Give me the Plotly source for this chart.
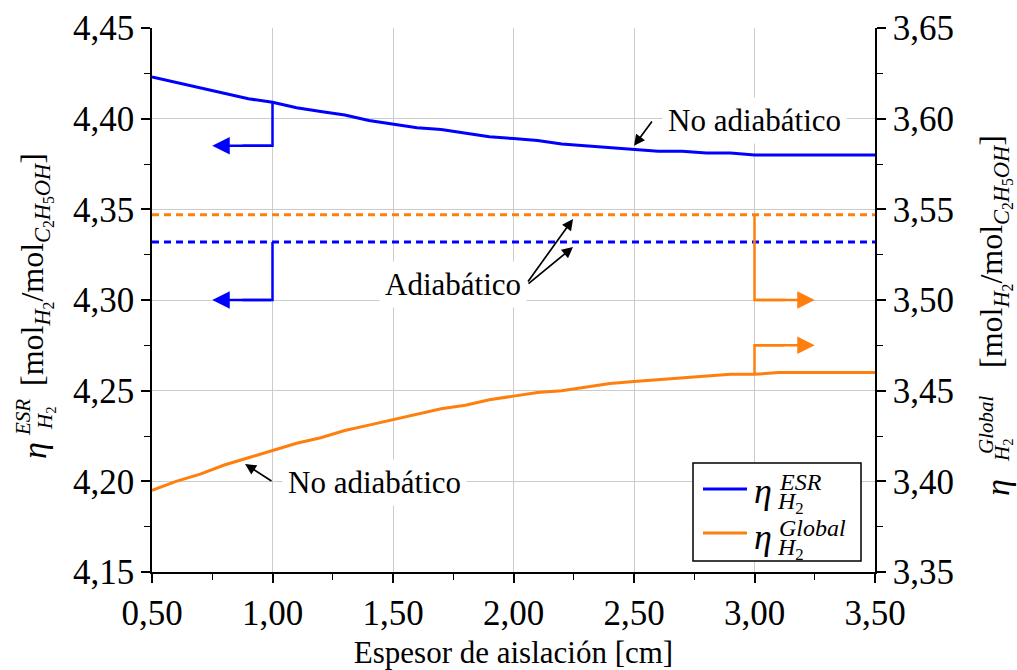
import plotly.graph_objects as go

# Espesor de aislación [cm]
espesor = [0.5, 0.6, 0.7, 0.8, 0.9, 1.0, 1.1, 1.2, 1.3, 1.4, 1.5, 1.6, 1.7, 1.8, 1.9, 2.0,
           2.1, 2.2, 2.3, 2.4, 2.5, 2.6, 2.7, 2.8, 2.9, 3.0, 3.1, 3.2, 3.3, 3.4, 3.5]

# Rendimiento ESR, caso no adiabático (eje izquierdo)
eta_esr_no_adiab = [4.423, 4.420, 4.417, 4.414, 4.411, 4.409, 4.406, 4.404, 4.402, 4.399,
                    4.397, 4.395, 4.394, 4.392, 4.390, 4.389, 4.388, 4.386, 4.385, 4.384,
                    4.383, 4.382, 4.382, 4.381, 4.381, 4.380, 4.380, 4.380, 4.380, 4.380, 4.380]

# Rendimiento global, caso no adiabático (eje derecho)
eta_global_no_adiab = [3.395, 3.400, 3.404, 3.409, 3.413, 3.417, 3.421, 3.424, 3.428, 3.431,
                       3.434, 3.437, 3.440, 3.442, 3.445, 3.447, 3.449, 3.450, 3.452, 3.454,
                       3.455, 3.456, 3.457, 3.458, 3.459, 3.459, 3.460, 3.460, 3.460, 3.460, 3.460]

# Casos adiabáticos (constantes)
eta_esr_adiab = 4.332
eta_global_adiab = 3.547

BLUE = "#0000ff"
ORANGE = "#ff7f0e"
FONT = "Liberation Serif, Times New Roman, serif"

W, H = 1017, 670
ML, MR, MT, MB = 152, 142, 28, 98
PW, PH = W - ML - MR, H - MT - MB


def px(xp):
    return (xp - ML) / PW


def py(yp):
    return (H - MB - yp) / PH


fig = go.Figure()

x_ends = [espesor[0], espesor[-1]]
fig.add_trace(go.Scatter(x=x_ends, y=[eta_global_adiab] * 2, yaxis="y2", mode="lines",
                         line=dict(color=ORANGE, width=3, dash="7px,5px"), showlegend=False))
fig.add_trace(go.Scatter(x=x_ends, y=[eta_esr_adiab] * 2, mode="lines",
                         line=dict(color=BLUE, width=3, dash="7px,5px"), showlegend=False))
fig.add_trace(go.Scatter(x=espesor, y=eta_esr_no_adiab, mode="lines",
                         line=dict(color=BLUE, width=3), name="ESR", showlegend=False))
fig.add_trace(go.Scatter(x=espesor, y=eta_global_no_adiab, yaxis="y2", mode="lines",
                         line=dict(color=ORANGE, width=3), name="Global", showlegend=False))

# Indicadores de eje: trazo vertical desde la curva y tramo horizontal con flecha
i1 = espesor.index(1.0)
i3 = espesor.index(3.0)
indicadores = [
    # (x de partida, y de partida, y del codo, x final, eje, color)
    (1.0, eta_esr_no_adiab[i1], 4.385, 0.75, "y", BLUE),
    (1.0, eta_esr_adiab, 4.300, 0.75, "y", BLUE),
    (3.0, eta_global_adiab, 3.500, 3.25, "y2", ORANGE),
    (3.0, eta_global_no_adiab[i3], 3.475, 3.25, "y2", ORANGE),
]
annotations = []
for x0, y0, yc, xf, ax_name, col in indicadores:
    fig.add_trace(go.Scatter(x=[x0, x0, (x0 + xf) / 2], y=[y0, yc, yc], yaxis=ax_name,
                             mode="lines", line=dict(color=col, width=2.5), showlegend=False))
    annotations.append(dict(x=xf, y=yc, ax=x0, ay=yc, xref="x", yref=ax_name,
                            axref="x", ayref=ax_name, text="", showarrow=True,
                            arrowhead=2, arrowsize=1.4, arrowwidth=2.5, arrowcolor=col))

# Etiquetas con flechas negras
textos = [
    ("No adiabático", 3.0, 4.399),
    ("Adiabático", 1.747, 4.3088),
    ("No adiabático", 1.425, 4.1996),
]
for t, xt, yt in textos:
    annotations.append(dict(x=xt, y=yt, xref="x", yref="y", text=t, showarrow=False,
                            font=dict(family=FONT, size=31, color="black"),
                            bgcolor="white", borderpad=5))

flechas = [
    # (cola x, cola y, punta x, punta y)
    (2.579, 4.3993, 2.5, 4.3850),
    (1.002, 4.1996, 0.886, 4.2096),
    (2.056, 4.3094, 2.247, 4.3447),
    (2.056, 4.3083, 2.247, 4.3292),
]
for xa, ya, xh, yh in flechas:
    annotations.append(dict(x=xh, y=yh, ax=xa, ay=ya, xref="x", yref="y", axref="x",
                            ayref="y", text="", showarrow=True, arrowhead=2,
                            arrowsize=1.3, arrowwidth=1.7, arrowcolor="black"))


def rot_text(text, xp, yp, size, angle=-90):
    return dict(x=px(xp), y=py(yp), xref="paper", yref="paper", text=text,
                showarrow=False, textangle=angle, xanchor="center", yanchor="middle",
                font=dict(family=FONT, size=size, color="black"))


unidades = ("[mol<sub><i>H</i><sub>2</sub></sub>/mol<sub><i>C</i><sub>2</sub>"
            "<i>H</i><sub>5</sub><i>OH</i></sub>]")

# Título eje izquierdo
annotations += [
    rot_text("<i>η</i>", 34, 451, 34),
    rot_text("<i>ESR</i>", 23, 418, 21),
    rot_text("<i>H</i><sub>2</sub>", 46, 418, 21),
    rot_text(unidades, 35, 270, 32),
]
# Título eje derecho
annotations += [
    rot_text("<i>η</i>", 997, 488, 34),
    rot_text("<i>Global</i>", 986, 424, 21),
    rot_text("<i>H</i><sub>2</sub>", 1003, 450, 21),
    rot_text(unidades, 994, 252, 32),
]

# Leyenda
shapes = [
    dict(type="rect", xref="paper", yref="paper", x0=px(693), x1=px(861), y0=py(561),
         y1=py(463), line=dict(color="black", width=1.5), fillcolor="white", layer="above"),
    dict(type="line", xref="paper", yref="paper", x0=px(703), x1=px(747), y0=py(489),
         y1=py(489), line=dict(color=BLUE, width=3), layer="above"),
    dict(type="line", xref="paper", yref="paper", x0=px(703), x1=px(747), y0=py(533),
         y1=py(533), line=dict(color=ORANGE, width=3), layer="above"),
]


def leg_text(text, xp, yp, size, xanchor="left"):
    return dict(x=px(xp), y=py(yp), xref="paper", yref="paper", text=text,
                showarrow=False, xanchor=xanchor, yanchor="middle",
                font=dict(family=FONT, size=size, color="black"))


annotations += [
    leg_text("<i>η</i>", 752, 491, 36),
    leg_text("<i>ESR</i>", 777, 482, 24),
    leg_text("<i>H</i><sub>2</sub>", 775, 503, 24),
    leg_text("<i>η</i>", 752, 537, 36),
    leg_text("<i>Global</i>", 777, 528, 24),
    leg_text("<i>H</i><sub>2</sub>", 775, 549, 24),
]

axis_common = dict(
    ticks="outside", ticklen=9, tickwidth=1.5, tickcolor="black",
    showline=True, linecolor="black", linewidth=1.5, zeroline=False, automargin=False,
    tickfont=dict(family=FONT, size=35, color="black"), tickformat=".2f",
)

fig.update_layout(
    width=W, height=H, autosize=False,
    margin=dict(l=ML, r=MR, t=MT, b=MB, pad=0),
    paper_bgcolor="white", plot_bgcolor="white",
    font=dict(family=FONT, color="black"),
    separators=",.",
    showlegend=False,
    xaxis=dict(range=[0.5, 3.5], tick0=0.5, dtick=0.5, showgrid=True,
               gridcolor="#cccccc", gridwidth=1.3,
               minor=dict(dtick=0.25, ticks="outside", ticklen=6, tickcolor="black",
                          tickwidth=1.2, showgrid=False),
               title=dict(text="Espesor de aislación [cm]", standoff=14,
                          font=dict(family=FONT, size=31, color="black")),
               **axis_common),
    yaxis=dict(range=[4.15, 4.45], tick0=4.15, dtick=0.05, showgrid=True,
               gridcolor="#cccccc", gridwidth=1.3,
               minor=dict(dtick=0.025, ticks="outside", ticklen=6, tickcolor="black",
                          tickwidth=1.2, showgrid=False),
               **axis_common),
    yaxis2=dict(range=[3.35, 3.65], tick0=3.35, dtick=0.05, overlaying="y", side="right",
                showgrid=False,
                minor=dict(dtick=0.025, ticks="outside", ticklen=6, tickcolor="black",
                           tickwidth=1.2, showgrid=False),
                **axis_common),
    annotations=annotations,
    shapes=shapes,
)

fig.write_html("out.html")
